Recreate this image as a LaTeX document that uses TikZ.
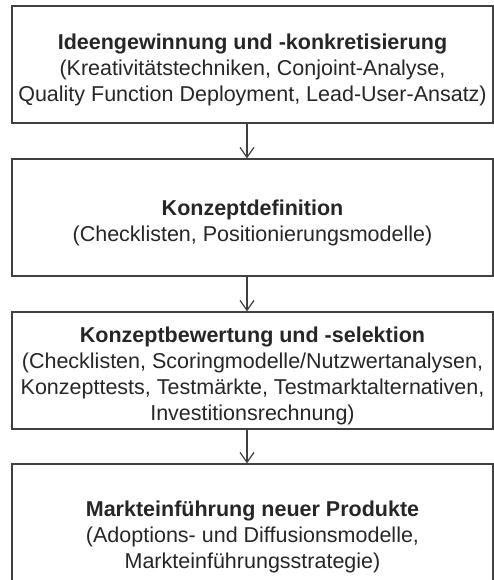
\documentclass[tikz,border=0pt]{standalone}
\usepackage{fontspec}
\setmainfont{Liberation Sans}
\usetikzlibrary{arrows.meta}
\newcommand{\phasetitle}[1]{\rule{0pt}{13pt}\textbf{#1}}
\begin{document}
\begin{tikzpicture}[line width=0.6pt, color=black!75,
    >={Straight Barb[length=5pt,width=7pt]},
    phase/.style={draw, rectangle, minimum width=240.5pt, minimum height=58.5pt,
      inner sep=0pt, align=center, text=black!85,
      font=\fontsize{10.75}{13}\selectfont}]
    \useasboundingbox (0,0) rectangle (247pt,-290pt);

    % Phase boxes
    \node[phase] (idee) at (126.25pt,-32.25pt)
      {\phasetitle{Ideengewinnung und -konkretisierung}\\(Kreativitätstechniken, Conjoint-Analyse,\\Quality Function Deployment, Lead-User-Ansatz)};
    \node[phase] (definition) at (126.25pt,-108.75pt)
      {\phasetitle{Konzeptdefinition}\\(Checklisten, Positionierungsmodelle)};
    \node[phase] (bewertung) at (126.25pt,-185.25pt)
      {\phasetitle{Konzeptbewertung und -selektion}\\(Checklisten, Scoringmodelle/Nutzwertanalysen,\\Konzepttests, Testmärkte, Testmarktalternativen,\\Investitionsrechnung)};
    \node[phase, minimum height=68pt] (einfuehrung) at (126.25pt,-266pt)
      {\phasetitle{Markteinführung neuer Produkte}\\(Adoptions- und Diffusionsmodelle,\\Markteinführungsstrategie)};

    % Arrows between phases
    \draw[->] ([xshift=-2.75pt]idee.south) -- ([xshift=-2.75pt]definition.north);
    \draw[->] ([xshift=-2.75pt]definition.south) -- ([xshift=-2.75pt]bewertung.north);
    \draw[->] ([xshift=-2.75pt]bewertung.south) -- ([xshift=-2.75pt]einfuehrung.north);
\end{tikzpicture}
\end{document}
